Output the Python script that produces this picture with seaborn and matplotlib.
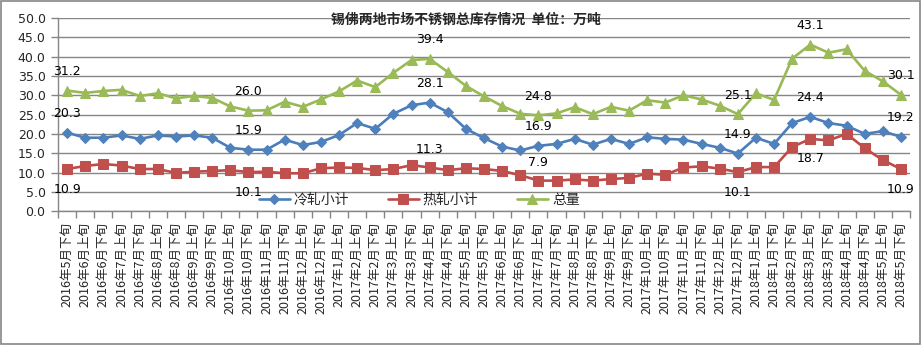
import numpy as np
import pandas as pd
import matplotlib
matplotlib.use("Agg")
import matplotlib.pyplot as plt
import seaborn as sns
from matplotlib.patches import Rectangle
from matplotlib.ticker import FixedLocator

periods = [
    "2016年5月下旬", "2016年6月上旬", "2016年6月下旬", "2016年7月上旬", "2016年7月下旬",
    "2016年8月上旬", "2016年8月下旬", "2016年9月上旬", "2016年9月下旬", "2016年10月上旬",
    "2016年10月下旬", "2016年11月上旬", "2016年11月下旬", "2016年12月上旬", "2016年12月下旬",
    "2017年1月上旬", "2017年2月上旬", "2017年2月下旬", "2017年3月上旬", "2017年3月下旬",
    "2017年4月上旬", "2017年4月下旬", "2017年5月上旬", "2017年5月下旬", "2017年6月上旬",
    "2017年6月下旬", "2017年7月上旬", "2017年7月下旬", "2017年8月上旬", "2017年8月下旬",
    "2017年9月上旬", "2017年9月下旬", "2017年10月上旬", "2017年10月下旬", "2017年11月上旬",
    "2017年11月下旬", "2017年12月上旬", "2017年12月下旬", "2018年1月上旬", "2018年1月下旬",
    "2018年2月下旬", "2018年3月上旬", "2018年3月下旬", "2018年4月上旬", "2018年4月下旬",
    "2018年5月上旬", "2018年5月下旬",
]

cold_rolled = [20.3, 19.0, 19.0, 19.6, 18.7, 19.6, 19.3, 19.6, 19.0, 16.4,
               15.9, 15.9, 18.5, 17.1, 17.9, 19.7, 22.8, 21.3, 25.2, 27.4,
               28.1, 25.6, 21.3, 18.9, 16.7, 15.7, 16.9, 17.4, 18.7, 17.2,
               18.7, 17.4, 19.1, 18.7, 18.5, 17.4, 16.4, 14.9, 19.0, 17.4,
               22.8, 24.4, 22.8, 22.1, 20.0, 20.7, 19.2]
hot_rolled = [10.9, 11.7, 12.2, 11.8, 10.9, 10.9, 9.9, 10.2, 10.4, 10.6,
              10.1, 10.2, 9.8, 9.8, 11.1, 11.3, 11.2, 10.6, 10.9, 11.9,
              11.3, 10.6, 11.1, 10.9, 10.4, 9.3, 7.9, 7.9, 8.2, 7.9,
              8.3, 8.6, 9.7, 9.4, 11.3, 11.6, 11.0, 10.1, 11.4, 11.4,
              16.6, 18.7, 18.3, 20.0, 16.3, 13.2, 10.9]
total = [31.2, 30.6, 31.1, 31.4, 29.8, 30.5, 29.2, 29.8, 29.3, 27.1,
         26.0, 26.1, 28.3, 27.0, 28.9, 31.0, 33.8, 32.1, 35.8, 39.1,
         39.4, 36.0, 32.4, 29.7, 27.2, 25.2, 24.8, 25.3, 26.9, 25.1,
         27.0, 26.0, 28.7, 28.1, 30.0, 28.9, 27.3, 25.1, 30.5, 28.8,
         39.5, 43.1, 41.0, 41.9, 36.3, 33.6, 30.1]

y_ticks = [0, 5, 10, 15, 20, 25, 30, 35, 40, 45, 50]
series_names = ["冷轧小计", "热轧小计", "总量"]
labeled_idx = [0, 10, 20, 26, 37, 41, 46]
red_label_above = [20, 26]

sns.set_theme(style="white")
plt.rcParams['font.family'] = ['Noto Sans CJK SC', 'DejaVu Sans']

fig = plt.figure(figsize=(9.22, 3.45), dpi=100)
ax = fig.add_axes([0.063, 0.388, 0.924, 0.560])

x = np.arange(len(periods))
grid_c = "#868686"

styles = [
    (cold_rolled, "#4A7EBB", "#4F81BD", "D", 5.5),
    (hot_rolled, "#BE4B48", "#C0504D", "s", 6.5),
    (total, "#98B954", "#9BBB59", "^", 7),
]
for (vals, lc, mc, mk, ms), name in zip(styles, series_names):
    sns.lineplot(x=x, y=vals, ax=ax, color=lc, lw=1.9, marker=mk,
                 markersize=ms, markerfacecolor=mc, markeredgecolor=mc,
                 label=name, zorder=3)

for i in labeled_idx:
    ax.annotate(f"{total[i]:.1f}", (x[i], total[i]), xytext=(0, 19),
                textcoords="offset pixels", ha="center", va="center",
                fontsize=9, family="DejaVu Sans", color="black")
    ax.annotate(f"{cold_rolled[i]:.1f}", (x[i], cold_rolled[i]), xytext=(0, 19),
                textcoords="offset pixels", ha="center", va="center",
                fontsize=9, family="DejaVu Sans", color="black")
    dy = 18 if i in red_label_above else -20
    ax.annotate(f"{hot_rolled[i]:.1f}", (x[i], hot_rolled[i]), xytext=(0, dy),
                textcoords="offset pixels", ha="center", va="center",
                fontsize=9, family="DejaVu Sans", color="black")

ax.set_xlim(-0.5, len(periods) - 0.5)
ax.set_ylim(0, 50)
ax.set_yticks(y_ticks)
ax.set_yticklabels([f"{v:.1f}" for v in y_ticks], fontsize=9, family="DejaVu Sans")
ax.set_xticks(x)
ax.set_xticklabels(periods, rotation=90, fontsize=9, va="top", ha="center")
ax.tick_params(axis="x", which="major", length=0, pad=8)
ax.xaxis.set_minor_locator(FixedLocator(np.arange(-0.5, len(periods), 1)))
ax.tick_params(axis="x", which="minor", length=5, color=grid_c, width=1,
               direction="out", bottom=True)
ax.tick_params(axis="y", which="major", length=5, color=grid_c, width=1,
               direction="out", left=True, pad=4)

ax.grid(axis="y", color=grid_c, lw=1)
ax.grid(axis="x", visible=False)
for s in ["top", "right"]:
    ax.spines[s].set_visible(False)
for s in ["left", "bottom"]:
    ax.spines[s].set_color(grid_c)
    ax.spines[s].set_linewidth(1)
ax.set_xlabel("")
ax.set_ylabel("")

ax.legend(loc="center", bbox_to_anchor=(0.424, 0.06), ncol=3, frameon=False,
          fontsize=10, handlelength=2.2, handletextpad=0.3, columnspacing=2.8,
          borderaxespad=0)

fig.text(0.505, 0.942, "锡佛两地市场不锈钢总库存情况  单位：万吨", ha="center",
         va="center", fontsize=10, fontweight="bold")

fig.patches.append(Rectangle((0.001, 0.002), 0.997, 0.995, transform=fig.transFigure,
                             fill=False, edgecolor=grid_c, lw=1.2))

fig.savefig("out.png", dpi=100)
